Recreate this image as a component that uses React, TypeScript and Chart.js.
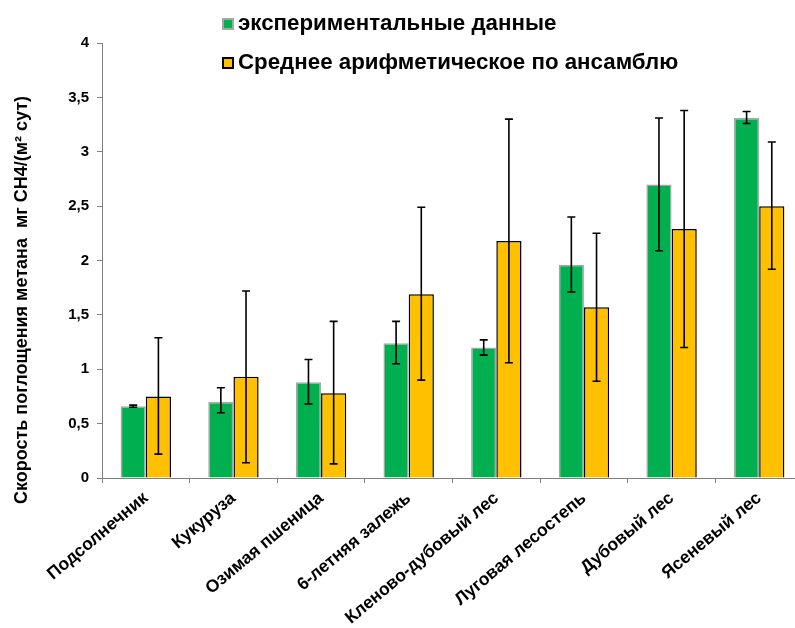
import React, { useEffect, useRef } from "react";
import { Chart, registerables } from "chart.js";

Chart.register(...registerables);

const categories = [
  "Подсолнечник",
  "Кукуруза",
  "Озимая пшеница",
  "6-летняя залежь",
  "Кленово-дубовый лес",
  "Луговая лесостепь",
  "Дубовый лес",
  "Ясеневый лес",
];

const expValues = [0.66, 0.7, 0.88, 1.24, 1.2, 1.96, 2.7, 3.31];
const expLow = [0.65, 0.6, 0.68, 1.05, 1.13, 1.71, 2.09, 3.26];
const expHigh = [0.67, 0.83, 1.09, 1.44, 1.27, 2.4, 3.31, 3.37];

const ensValues = [0.75, 0.93, 0.78, 1.69, 2.18, 1.57, 2.29, 2.5];
const ensLow = [0.22, 0.14, 0.13, 0.9, 1.06, 0.89, 1.2, 1.92];
const ensHigh = [1.29, 1.72, 1.44, 2.49, 3.3, 2.25, 3.38, 3.09];

const legendLabels = ["экспериментальные данные", "Среднее арифметическое по ансамблю"];
const yTitle = "Скорость поглощения метана  мг CH4/(м² сут)";

const GREEN = "#00B050";
const YELLOW = "#FFC000";
const FONT = "'Liberation Sans', Arial, sans-serif";

const errorBarsPlugin = {
  id: "errorBars",
  afterDatasetsDraw(chart: any) {
    const ctx = chart.ctx;
    const yScale = chart.scales.y;
    const sets = [
      { low: expLow, high: expHigh },
      { low: ensLow, high: ensHigh },
    ];
    ctx.save();
    ctx.strokeStyle = "#000";
    ctx.lineWidth = 1.6;
    sets.forEach((s, di) => {
      const meta = chart.getDatasetMeta(di);
      meta.data.forEach((bar: any, i: number) => {
        const x = bar.x;
        const yl = yScale.getPixelForValue(s.low[i]);
        const yh = yScale.getPixelForValue(s.high[i]);
        ctx.beginPath();
        ctx.moveTo(x, yl);
        ctx.lineTo(x, yh);
        ctx.moveTo(x - 4, yl);
        ctx.lineTo(x + 4, yl);
        ctx.moveTo(x - 4, yh);
        ctx.lineTo(x + 4, yh);
        ctx.stroke();
      });
    });
    ctx.restore();
  },
};

const yTitlePlugin = {
  id: "yTitleCustom",
  afterDraw(chart: any) {
    const ctx = chart.ctx;
    ctx.save();
    ctx.translate(22, 300);
    ctx.rotate(-Math.PI / 2);
    ctx.font = `bold 18px ${FONT}`;
    ctx.fillStyle = "#000";
    ctx.textAlign = "center";
    ctx.textBaseline = "middle";
    ctx.fillText(yTitle, 0, 0);
    ctx.restore();
  },
};

export default function App() {
  const ref = useRef<HTMLCanvasElement>(null);

  useEffect(() => {
    if (!ref.current) return;
    const chart = new Chart(ref.current, {
      type: "bar",
      data: {
        labels: categories,
        datasets: [
          {
            label: legendLabels[0],
            data: expValues,
            backgroundColor: GREEN,
            borderColor: "#A6A6A6",
            borderWidth: 1.5,
            categoryPercentage: 0.575,
            barPercentage: 1,
          },
          {
            label: legendLabels[1],
            data: ensValues,
            backgroundColor: YELLOW,
            borderColor: "#000",
            borderWidth: 1.5,
            categoryPercentage: 0.575,
            barPercentage: 1,
          },
        ],
      },
      options: {
        animation: false,
        responsive: true,
        maintainAspectRatio: false,
        layout: { padding: { top: 43, left: 0, right: 0, bottom: 0 } },
        plugins: {
          legend: { display: false },
          tooltip: { enabled: false },
        },
        scales: {
          x: {
            grid: {
              display: true,
              drawOnChartArea: false,
              drawTicks: true,
              tickLength: 5,
              color: "#808080",
            },
            border: { display: true, color: "#808080", width: 1 },
            ticks: {
              color: "#000",
              font: { family: FONT, size: 17.5, weight: "bold" },
              maxRotation: 40,
              minRotation: 40,
              autoSkip: false,
              padding: 5,
            },
            afterFit(scale: any) {
              scale.height = 150;
            },
          },
          y: {
            min: 0,
            max: 4,
            grid: {
              display: true,
              drawOnChartArea: false,
              drawTicks: true,
              tickLength: 5,
              color: "#808080",
            },
            border: { display: true, color: "#808080", width: 1 },
            ticks: {
              stepSize: 0.5,
              color: "#000",
              padding: 8,
              font: { family: FONT, size: 15, weight: "bold" },
              callback: (v: any) => String(Number(v)).replace(".", ","),
            },
            afterFit(scale: any) {
              scale.width = 102;
            },
          },
        },
      },
      plugins: [errorBarsPlugin, yTitlePlugin],
    });
    return () => chart.destroy();
  }, []);

  const legendText: React.CSSProperties = {
    position: "absolute",
    left: 238,
    fontFamily: FONT,
    fontWeight: "bold",
    fontSize: 22.3,
    color: "#000",
    whiteSpace: "nowrap",
    lineHeight: "22px",
  };

  return (
    <div
      style={{
        position: "fixed",
        left: 0,
        top: 0,
        width: 795,
        height: 628,
        overflow: "hidden",
        background: "#fff",
      }}
    >
      <div style={{ position: "absolute", left: 0, top: 0, width: 803, height: 628 }}>
        <canvas ref={ref} />
      </div>
      <div
        style={{
          position: "absolute",
          left: 222,
          top: 18,
          width: 8,
          height: 8,
          background: GREEN,
          border: "2px solid #A6A6A6",
        }}
      />
      <div style={{ ...legendText, top: 12 }}>{legendLabels[0]}</div>
      <div
        style={{
          position: "absolute",
          left: 222,
          top: 57,
          width: 8,
          height: 8,
          background: YELLOW,
          border: "2px solid #000",
        }}
      />
      <div style={{ ...legendText, top: 51 }}>{legendLabels[1]}</div>
    </div>
  );
}
